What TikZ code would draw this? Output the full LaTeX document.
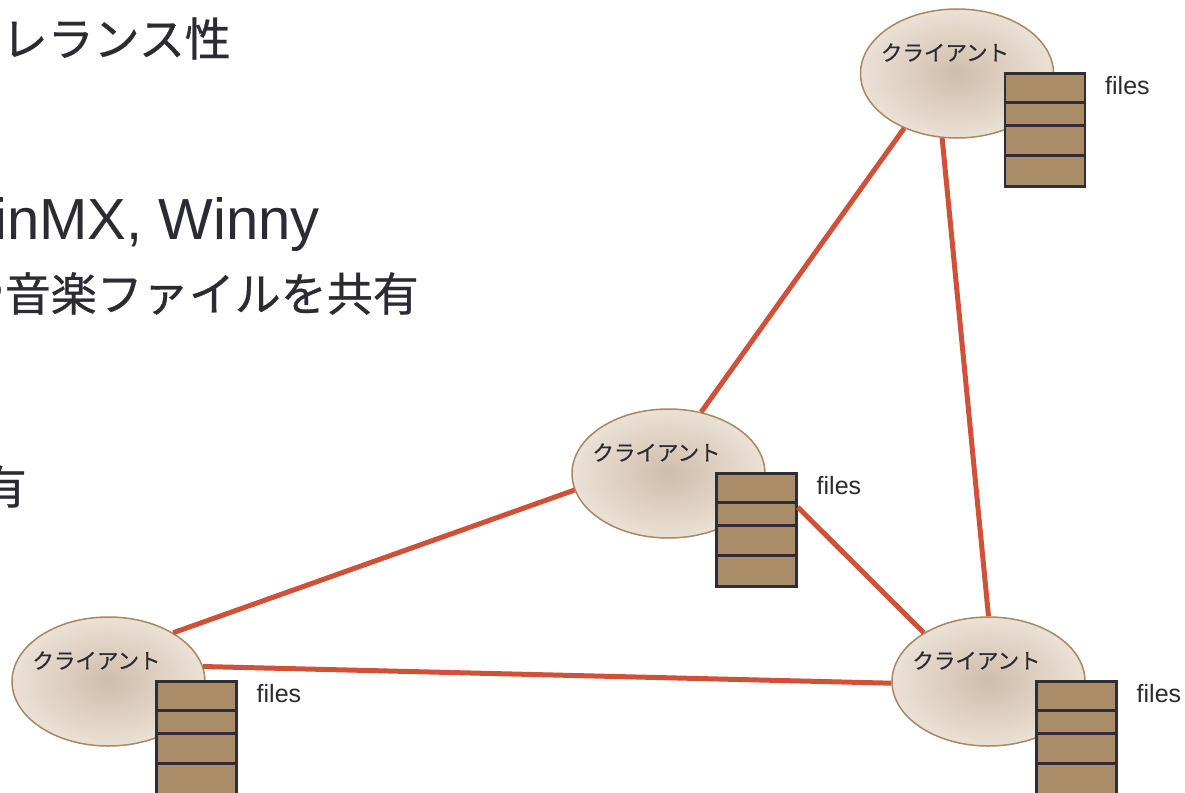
\documentclass[tikz,border=0pt]{standalone}
\usepackage{fontspec}
\setmainfont{Liberation Sans}
\newfontfamily\jp[FakeBold=0.6]{Noto Sans CJK JP}
\usetikzlibrary{shapes.geometric}
\definecolor{txt}{HTML}{2B2B33}
\definecolor{link}{HTML}{D05038}
\definecolor{ellin}{HTML}{D0BDAB}
\definecolor{ellout}{HTML}{EBE1D6}
\definecolor{ellbd}{HTML}{A8895F}
\definecolor{boxfill}{HTML}{AA8D66}
\definecolor{boxbd}{HTML}{2E2E35}
\tikzset{
  client/.style={ellipse, minimum width=193pt, minimum height=129pt, inner sep=0pt,
    draw=ellbd, line width=1.5pt, inner color=ellin, outer color=ellout},
  clientlabel/.style={inner sep=0pt, text=txt, font=\jp\fontsize{21.5pt}{21.5pt}\selectfont},
  filebox/.style={rectangle, minimum width=80pt, minimum height=113pt, inner sep=0pt,
    draw=boxbd, fill=boxfill, line width=2.5pt},
  divider/.style={draw=boxbd, line width=2.5pt},
  fileslabel/.style={inner sep=0pt, text=txt, anchor=base west, font=\fontsize{25pt}{25pt}\selectfont},
  conn/.style={draw=link, line width=5pt},
  bigjp/.style={inner sep=0pt, text=txt, anchor=base east, font=\jp\fontsize{46pt}{46pt}\selectfont},
  biglat/.style={inner sep=0pt, text=txt, anchor=base east, font=\fontsize{58pt}{58pt}\selectfont},
}
\begin{document}
\begin{tikzpicture}[x=1pt,y=-1pt]
\clip (0,0) rectangle (1185,792);
\fill[white] (0,0) rectangle (1185,792);
% left text (clipped)
\node[bigjp] (l1) at (231,56) {トレランス性};
\node[biglat] (l2) at (320,239) {WinMX, Winny};
\node[bigjp] (l3) at (419,311) {や音楽ファイルを共有};
\node[bigjp] (l4) at (27,504) {有};
% clients
\node[client] (top) at (957,73.5) {};
\node[client] (mid) at (668.5,473.5) {};
\node[client] (bl) at (108.5,681.5) {};
\node[client] (br) at (988.5,681.5) {};
% connectors
\draw[conn] (top.-134) -- (mid.62);
\draw[conn] (top.-103) -- (br.90);
\draw[conn] (mid.190) -- (bl.37);
\draw[conn] (bl.9) -- (br.181);
% labels
\foreach \n in {top,mid,bl,br}{
  \node[clientlabel] (\n lab) at ([shift={(-12pt,21pt)}]\n.center) {クライアント};
  \node[filebox] (\n box) at ([shift={(88pt,-56.5pt)}]\n.center) {};
  \foreach \d in {30,53,83}{
    \draw[divider] ([yshift=-\d pt]\n box.north west) -- ([yshift=-\d pt]\n box.north east);
  }
  \node[fileslabel] (\n files) at ([shift={(148pt,-20.5pt)}]\n.center) {files};
}
\draw[conn] (midbox.29) -- (br.143);
\end{tikzpicture}
\end{document}
